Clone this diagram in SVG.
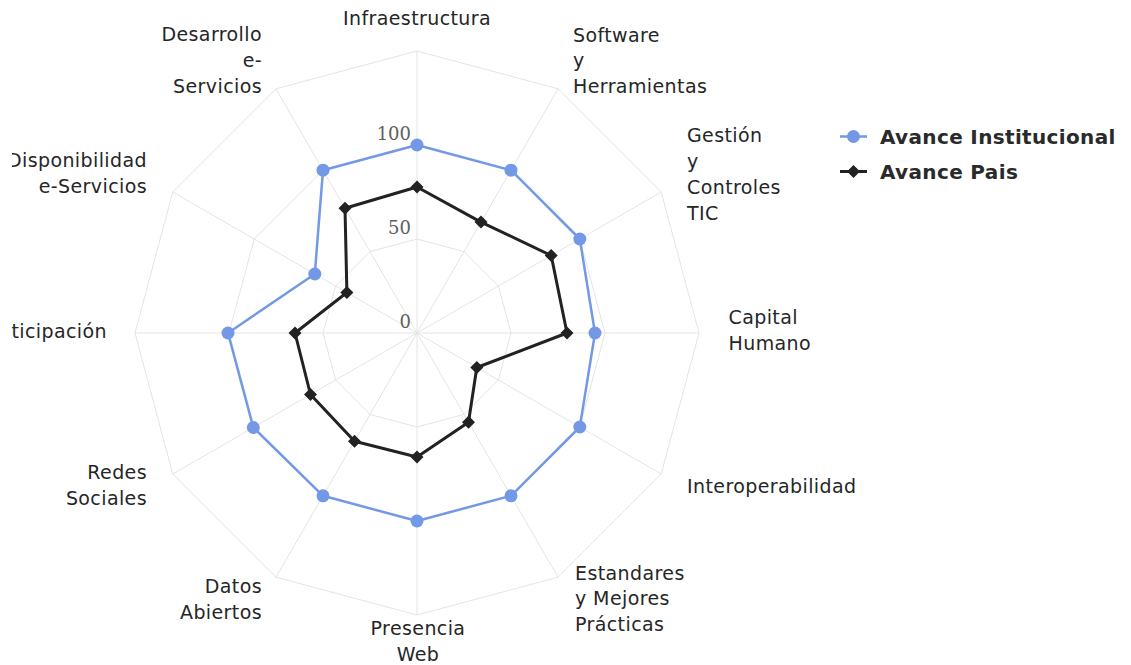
<svg xmlns="http://www.w3.org/2000/svg" xmlns:xlink="http://www.w3.org/1999/xlink" width="1131" height="665" viewBox="0 0 1131 665">
  <style>
    .grid { fill: none; stroke: #e4e4e4; stroke-width: 1; }
    .spoke { stroke: #e4e4e4; stroke-width: 1; }
    .lbl { font-family: "DejaVu Sans", "Liberation Sans", sans-serif; font-size: 19px; letter-spacing: 0.4px; fill: #262626; }
    .end { text-anchor: end; }
    .mid { text-anchor: middle; }
    .ytick { font-family: "DejaVu Serif", "Liberation Serif", serif; font-size: 18px; fill: #606060; text-anchor: end; }
    .leg { font-family: "DejaVu Sans", "Liberation Sans", sans-serif; font-size: 20px; font-weight: bold; letter-spacing: 0.35px; fill: #2a2a2a; }
    .sblue { fill: none; stroke: #7399e6; stroke-width: 2.5; stroke-linejoin: round; }
    .sblack { fill: none; stroke: #222222; stroke-width: 3; stroke-linejoin: round; }
  </style>
  <defs>
    <circle id="dot" r="6.5" fill="#7399e6"/>
    <path id="dia" d="M0,-6.5 L6.5,0 L0,6.5 L-6.5,0 Z" fill="#222222"/>
    <clipPath id="leftclip"><rect x="12" y="0" width="1119" height="665"/></clipPath>
  </defs>
  <rect width="1131" height="665" fill="#ffffff"/>

  <g id="grid">
    <polygon class="grid" points="417,51 558,88.8 661.2,192 699,333 661.2,474 558,577.2 417,615 276,577.2 172.8,474 135,333 172.8,192 276,88.8"/>
    <polygon class="grid" points="417,145 511,170.2 579.8,239 605,333 579.8,427 511,495.8 417,521 323,495.8 254.2,427 229,333 254.2,239 323,170.2"/>
    <polygon class="grid" points="417,239 464,251.6 498.4,286 511,333 498.4,380 464,414.4 417,427 370,414.4 335.6,380 323,333 335.6,286 370,251.6"/>
    <line class="spoke" x1="417" y1="333" x2="417" y2="51"/>
    <line class="spoke" x1="417" y1="333" x2="558" y2="88.8"/>
    <line class="spoke" x1="417" y1="333" x2="661.2" y2="192"/>
    <line class="spoke" x1="417" y1="333" x2="699" y2="333"/>
    <line class="spoke" x1="417" y1="333" x2="661.2" y2="474"/>
    <line class="spoke" x1="417" y1="333" x2="558" y2="577.2"/>
    <line class="spoke" x1="417" y1="333" x2="417" y2="615"/>
    <line class="spoke" x1="417" y1="333" x2="276" y2="577.2"/>
    <line class="spoke" x1="417" y1="333" x2="172.8" y2="474"/>
    <line class="spoke" x1="417" y1="333" x2="135" y2="333"/>
    <line class="spoke" x1="417" y1="333" x2="172.8" y2="192"/>
    <line class="spoke" x1="417" y1="333" x2="276" y2="88.8"/>
  </g>

  <g id="y-axis-labels">
    <text class="ytick" x="411" y="140">100</text>
    <text class="ytick" x="411" y="234">50</text>
    <text class="ytick" x="411" y="328">0</text>
  </g>

  <g id="connectors">
    <polygon id="series-institucional" class="sblue" points="417,145 511,170.2 579.8,239 595,333 579.8,427 511,495.8 417,521 323,495.8 253.3,427.5 228,333 314.8,274 323,170.2"/>
    <polygon id="series-pais" class="sblack" points="417,187 481,222.1 551.2,255.5 567,333 476.8,367.5 468.5,422.2 417,457 354.5,441.3 310.5,394.5 295,333 346.9,292.5 345,208.3"/>
  </g>

  <g id="markers-institucional">
    <use xlink:href="#dot" x="417" y="145"/>
    <use xlink:href="#dot" x="511" y="170.2"/>
    <use xlink:href="#dot" x="579.8" y="239"/>
    <use xlink:href="#dot" x="595" y="333"/>
    <use xlink:href="#dot" x="579.8" y="427"/>
    <use xlink:href="#dot" x="511" y="495.8"/>
    <use xlink:href="#dot" x="417" y="521"/>
    <use xlink:href="#dot" x="323" y="495.8"/>
    <use xlink:href="#dot" x="253.3" y="427.5"/>
    <use xlink:href="#dot" x="228" y="333"/>
    <use xlink:href="#dot" x="314.8" y="274"/>
    <use xlink:href="#dot" x="323" y="170.2"/>
  </g>
  <g id="markers-pais">
    <use xlink:href="#dia" x="417" y="187"/>
    <use xlink:href="#dia" x="481" y="222.1"/>
    <use xlink:href="#dia" x="551.2" y="255.5"/>
    <use xlink:href="#dia" x="567" y="333"/>
    <use xlink:href="#dia" x="476.8" y="367.5"/>
    <use xlink:href="#dia" x="468.5" y="422.2"/>
    <use xlink:href="#dia" x="417" y="457"/>
    <use xlink:href="#dia" x="354.5" y="441.3"/>
    <use xlink:href="#dia" x="310.5" y="394.5"/>
    <use xlink:href="#dia" x="295" y="333"/>
    <use xlink:href="#dia" x="346.9" y="292.5"/>
    <use xlink:href="#dia" x="345" y="208.3"/>
  </g>

  <g id="axis-labels">
    <g id="node-infraestructura"><text class="lbl mid" x="417" y="25">Infraestructura</text></g>
    <g id="node-software"><text class="lbl" x="573" y="42">Software</text><text class="lbl" x="573" y="67">y</text><text class="lbl" x="573" y="93">Herramientas</text></g>
    <g id="node-gestion"><text class="lbl" x="687" y="142">Gestión</text><text class="lbl" x="687" y="168">y</text><text class="lbl" x="687" y="194">Controles</text><text class="lbl" x="687" y="220">TIC</text></g>
    <g id="node-capital"><text class="lbl" x="728.5" y="324">Capital</text><text class="lbl" x="728.5" y="350">Humano</text></g>
    <g id="node-interoperabilidad"><text class="lbl" x="687" y="493">Interoperabilidad</text></g>
    <g id="node-estandares"><text class="lbl" x="575" y="580">Estandares</text><text class="lbl" x="575" y="605">y Mejores</text><text class="lbl" x="575" y="631">Prácticas</text></g>
    <g id="node-presencia"><text class="lbl mid" x="418" y="635">Presencia</text><text class="lbl mid" x="418" y="661">Web</text></g>
    <g id="node-datos"><text class="lbl end" x="262" y="593">Datos</text><text class="lbl end" x="262" y="619">Abiertos</text></g>
    <g id="node-redes"><text class="lbl end" x="147" y="479">Redes</text><text class="lbl end" x="147" y="505">Sociales</text></g>
    <g id="node-participacion"><text class="lbl end" x="107" y="338">ticipación</text></g>
    <g id="node-disponibilidad" clip-path="url(#leftclip)"><text class="lbl end" x="147" y="167">Disponibilidad</text><text class="lbl end" x="147" y="193">e-Servicios</text></g>
    <g id="node-desarrollo"><text class="lbl end" x="262" y="41">Desarrollo</text><text class="lbl end" x="262" y="67">e-</text><text class="lbl end" x="262" y="93">Servicios</text></g>
  </g>

  <g id="legend">
    <g id="legend-institucional">
      <line x1="840" y1="136.5" x2="867" y2="136.5" stroke="#7399e6" stroke-width="2.5"/>
      <use xlink:href="#dot" x="853.5" y="136.5"/>
      <text class="leg" x="880" y="143.5">Avance Institucional</text>
    </g>
    <g id="legend-pais">
      <line x1="840" y1="171.5" x2="867" y2="171.5" stroke="#222222" stroke-width="3"/>
      <use xlink:href="#dia" x="853.5" y="171.5"/>
      <text class="leg" x="880" y="178.5">Avance Pais</text>
    </g>
  </g>
</svg>
